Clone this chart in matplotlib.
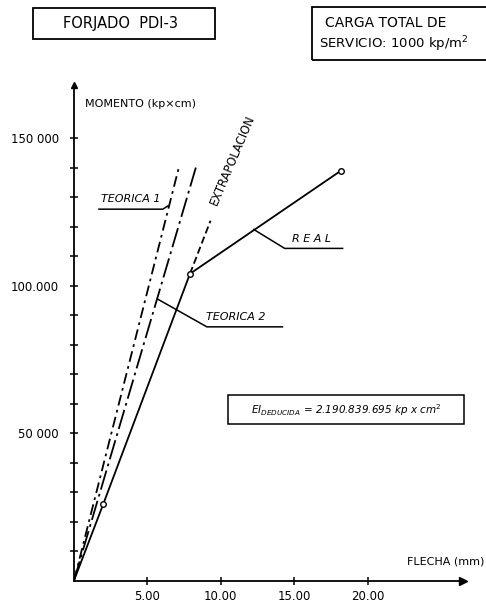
import matplotlib
matplotlib.use('Agg')
import matplotlib.pyplot as plt
from matplotlib.patches import Rectangle
import numpy as np

# deflection (mm) vs moment (kp x cm)
real_x = [0.0, 2.0, 7.9, 18.2]
real_y = [0, 26000, 104000, 139000]
extrap_x = [7.9, 9.3]
extrap_y = [104000, 122000]
teorica1_x = [0.0, 7.14]
teorica1_y = [0, 140000]
teorica2_x = [0.0, 8.3]
teorica2_y = [0, 140000]

xticks = [5, 10, 15, 20]
xtick_labels = ['5.00', '10.00', '15.00', '20.00']
yticks = [50000, 100000, 150000]
ytick_labels = ['50 000', '100.000', '150 000']
yminor = list(range(10000, 150001, 10000))

W, H = 486, 605
fig = plt.figure(figsize=(W / 100, H / 100), dpi=100)
plt.rcParams['font.family'] = 'DejaVu Sans'


def fpx(x, y):
    # pixel position (from top-left) -> figure fraction
    return x / W, 1 - y / H


x0, y0 = 74, 580.5
x1, y1 = 463, 85
ax = fig.add_axes([x0 / W, 1 - y0 / H, (x1 - x0) / W, (y0 - y1) / H])
ax.set_xlim(0, 26.5)
ax.set_ylim(0, 168000)
for s in ['top', 'right']:
    ax.spines[s].set_visible(False)
for s in ['left', 'bottom']:
    ax.spines[s].set_linewidth(1.3)
ax.plot(1, 0, '>k', ms=6, transform=ax.transAxes, clip_on=False)
ax.plot(0, 1, '^k', ms=5, transform=ax.transAxes, clip_on=False)

ax.set_xticks(xticks)
ax.set_xticklabels(xtick_labels)
ax.set_yticks(yticks)
ax.set_yticklabels(ytick_labels)
ax.set_yticks(yminor, minor=True)
ax.tick_params(axis='both', which='both', direction='inout', length=6, width=1.1)
ax.tick_params(axis='x', labelsize=8.5, pad=4)
ax.tick_params(axis='y', labelsize=8.5, pad=8)

lw = 1.3
ax.plot(teorica1_x, teorica1_y, color='black', lw=lw, dashes=(6, 2.5, 1.5, 2.5))
ax.plot(teorica2_x, teorica2_y, color='black', lw=lw, dashes=(11, 2.5, 1.5, 2.5))
ax.plot(extrap_x, extrap_y, color='black', lw=lw, dashes=(4, 2))
ax.plot(real_x, real_y, color='black', lw=lw)
ax.plot(real_x[1:], real_y[1:], 'o', ms=4, mfc='white', mec='black', mew=1)

# labels with leader lines
lab = dict(color='black', lw=1.1)
ax.plot([1.70, 6.05, 6.4], [125900, 125900, 127000], **lab)
ax.text(3.85, 127500, 'TEORICA 1', fontsize=8, style='italic', ha='center', va='bottom')

ax.plot([5.7, 9.05, 14.2], [95400, 86000, 86000], **lab)
ax.text(11.05, 87500, 'TEORICA 2', fontsize=8, style='italic', ha='center', va='bottom')

ax.plot([12.25, 14.35, 18.3], [119000, 112600, 112600], **lab)
ax.text(16.15, 114000, 'R E A L', fontsize=8, style='italic', ha='center', va='bottom')

ax.text(10.8, 142500, 'EXTRAPOLACION', fontsize=8.3, rotation=67,
        rotation_mode='anchor', ha='center', va='center')

# EI box
fig.patches.append(Rectangle(fpx(228, 424), (464 - 228) / W, (424 - 395) / H,
                             transform=fig.transFigure, fill=False, lw=1.1, ec='black'))
fig.text(*fpx(346, 410),
         r'$\mathit{EI}_{\mathit{DEDUCIDA}}$' + ' = 2.190.839.695 kp x cm$^{2}$',
         fontsize=7.5, style='italic', ha='center', va='center')

# axis titles
fig.text(*fpx(85, 104), 'MOMENTO (kp\u00d7cm)', fontsize=8, ha='left', va='center')
fig.text(*fpx(484, 561), 'FLECHA (mm)', fontsize=8, ha='right', va='center')

# header boxes
fig.patches.append(Rectangle(fpx(33, 39), (215 - 33) / W, (39 - 8) / H,
                             transform=fig.transFigure, fill=False, lw=1.3, ec='black'))
fig.text(*fpx(120, 23.5), 'FORJADO  PDI-3', fontsize=10.5, ha='center', va='center')

fig.patches.append(Rectangle(fpx(312, 60), (495 - 312) / W, (60 - 7) / H,
                             transform=fig.transFigure, fill=False, lw=1.3, ec='black'))
fig.text(*fpx(325, 23), 'CARGA TOTAL DE', fontsize=10, ha='left', va='center')
fig.text(*fpx(319, 44), 'SERVICIO: 1000 kp/m$^2$', fontsize=9.5, ha='left', va='center')

fig.savefig('out.png', dpi=100)
